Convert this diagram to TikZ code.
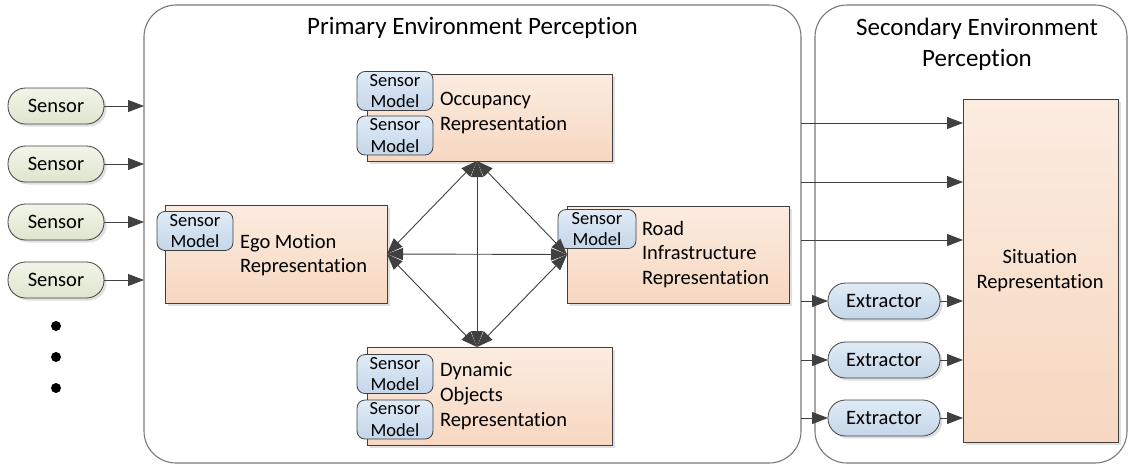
\documentclass[tikz,border=0pt]{standalone}
\usepackage{fontspec}
\setmainfont{Carlito}[Ligatures=NoCommon]
\usetikzlibrary{arrows.meta,shadows,calc}

\definecolor{peachtop}{RGB}{251,236,224}
\definecolor{peachbot}{RGB}{247,215,193}
\definecolor{bluetop}{RGB}{224,235,246}
\definecolor{bluebot}{RGB}{196,214,233}
\definecolor{greentop}{RGB}{242,245,232}
\definecolor{greenbot}{RGB}{222,229,206}
\definecolor{linegray}{RGB}{64,64,64}
\definecolor{framegray}{RGB}{120,120,120}

\begin{document}
\begin{tikzpicture}[x=1pt,y=-1pt,
  every node/.style={inner sep=0pt, outer sep=0pt},
  softshadow/.style={drop shadow={shadow xshift=2.5pt, shadow yshift=-2.5pt, fill=black, opacity=0.12}},
  frame/.style={draw=framegray, line width=1.1pt, rounded corners=32pt},
  repbox/.style={draw=linegray, line width=0.9pt, top color=peachtop, bottom color=peachbot, softshadow},
  modelbox/.style={draw=linegray, line width=0.8pt, rounded corners=8pt, top color=bluetop, bottom color=bluebot,
    minimum width=76pt, minimum height=39pt, align=center, font=\fontsize{18.5}{21.5}\selectfont},
  sensorpill/.style={draw=linegray, line width=0.8pt, rounded corners=17.5pt, top color=greentop, bottom color=greenbot,
    minimum width=96pt, minimum height=36pt, font=\fontsize{20.5}{24}\selectfont, softshadow},
  extractorpill/.style={draw=linegray, line width=0.8pt, rounded corners=17.5pt, top color=bluetop, bottom color=bluebot,
    minimum width=112pt, minimum height=36pt, font=\fontsize{20.5}{24}\selectfont, softshadow},
  label/.style={align=left, anchor=west, font=\fontsize{20.5}{24.7}\selectfont},
  title/.style={align=center, font=\fontsize{25}{31}\selectfont},
  dot/.style={circle, fill=black, minimum size=10pt},
  arr/.style={draw=linegray, line width=0.9pt, -{Triangle[length=16pt,width=12pt]}},
  darr/.style={draw=linegray, line width=0.9pt, {Triangle[length=16pt,width=12pt]}-{Triangle[length=16pt,width=12pt]}}
]
\useasboundingbox (0,0) rectangle (1132,467);

% outer frames
\node[frame, minimum width=657pt, minimum height=458pt] (prim) at (472.5,234) {};
\node[frame, minimum width=312pt, minimum height=458pt] (sec) at (971,234) {};
\node[title] (primtitle) at (472.5,28) {Primary Environment Perception};
\node[title] (sectitle) at (977,44.5) {Secondary Environment\\Perception};

% sensors
\node[sensorpill] (s1) at (56,106) {Sensor};
\node[sensorpill] (s2) at (56,164) {Sensor};
\node[sensorpill] (s3) at (56,222) {Sensor};
\node[sensorpill] (s4) at (56,280) {Sensor};
\node[dot] (d1) at (56,326) {};
\node[dot] (d2) at (56,357) {};
\node[dot] (d3) at (56,388) {};
\foreach \s in {s1,s2,s3,s4} \draw[arr] (\s.east) -- (\s.east -| prim.west);

% representation boxes
\node[repbox, minimum width=245pt, minimum height=87pt] (occ) at (489.5,117.5) {};
\node[modelbox] (occm1) at (395,91) {Sensor\\Model};
\node[modelbox] (occm2) at (395,135.5) {Sensor\\Model};
\node[label] (occt) at (440,113) {Occupancy\\Representation};

\node[repbox, minimum width=222pt, minimum height=98pt] (ego) at (276,254) {};
\node[modelbox] (egom) at (195,231) {Sensor\\Model};
\node[label] (egot) at (240,255) {Ego Motion\\Representation};

\node[repbox, minimum width=222pt, minimum height=97pt] (road) at (678,254.5) {};
\node[modelbox, minimum width=78pt] (roadm) at (597,229) {Sensor\\Model};
\node[label] (roadt) at (642,254.5) {Road\\Infrastructure\\Representation};

\node[repbox, minimum width=245pt, minimum height=98pt] (dyn) at (489.5,396) {};
\node[modelbox] (dynm1) at (395,374) {Sensor\\Model};
\node[modelbox] (dynm2) at (395,419.5) {Sensor\\Model};
\node[label] (dynt) at (440,396) {Dynamic\\Objects\\Representation};

% links between representations
\coordinate (hub) at (477,254);
\coordinate (ot) at (occ.south -| hub);
\coordinate (dt) at (dyn.north -| hub);
\draw[darr] (ot) -- (dt);
\draw[darr] (ego.east) -- (road.west);
\draw[darr] (ot) -- (ego.east);
\draw[darr] (ot) -- (road.west);
\draw[darr] (dt) -- (ego.east);
\draw[darr] (dt) -- (road.west);

% situation representation
\node[repbox, minimum width=155pt, minimum height=343pt] (sit) at (1040.5,270.5) {};
\node[align=center, font=\fontsize{20.5}{24.7}\selectfont] (sitt) at (1040,270.5) {Situation\\Representation};

\coordinate (t1) at (prim.east |- 0,123);
\coordinate (t2) at (prim.east |- 0,182);
\coordinate (t3) at (prim.east |- 0,240);
\foreach \t in {t1,t2,t3} \draw[arr] (\t) -- (\t -| sit.west);

% extractors
\node[extractorpill] (e1) at (884,301) {Extractor};
\node[extractorpill] (e2) at (884,360) {Extractor};
\node[extractorpill] (e3) at (884,418) {Extractor};
\foreach \e in {e1,e2,e3} {
  \draw[arr] (\e.west -| prim.east) -- (\e.west);
  \draw[arr] (\e.east) -- (\e.east -| sit.west);
}
\end{tikzpicture}
\end{document}
